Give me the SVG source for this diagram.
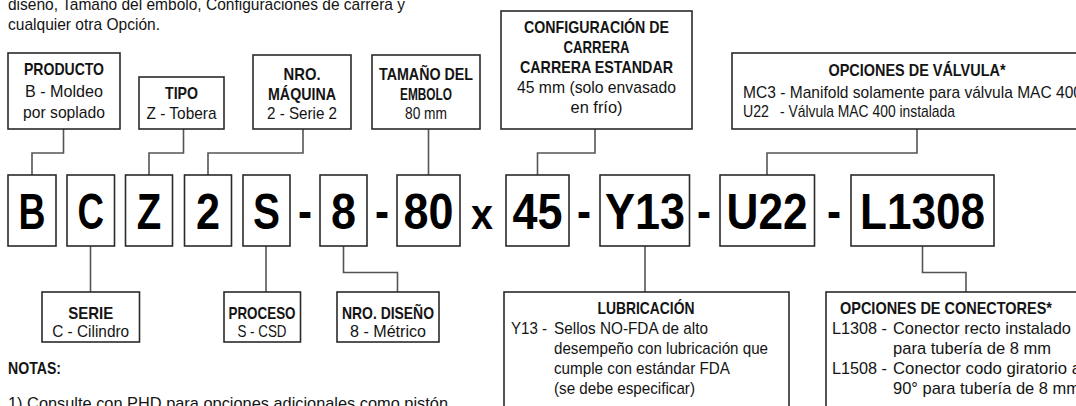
<svg xmlns="http://www.w3.org/2000/svg" width="1076" height="406" viewBox="0 0 1076 406">
<style>
.b{fill:#fff;stroke:#2a2a2a;stroke-width:1.6}
.c{fill:none;stroke:#555;stroke-width:1.6}
.t{font-family:'Liberation Sans',Arial,sans-serif;font-size:17px;fill:#141414}
.h{font-weight:bold}
.m{text-anchor:middle}
.g{font-family:'Liberation Sans',Arial,sans-serif;font-weight:bold;font-size:50px;text-anchor:middle;fill:#000}
</style>
<rect width="1076" height="406" fill="#fff"/>
<g id="intro">
<text class="t" x="8" y="10" textLength="397" lengthAdjust="spacingAndGlyphs">diseño, Tamaño del émbolo, Configuraciones de carrera y</text>
<text class="t" x="8" y="30" textLength="152" lengthAdjust="spacingAndGlyphs">cualquier otra Opción.</text>
</g>
<g id="connectors">
<path class="c" d="M63.5,129V153H32V175"/>
<path class="c" d="M183.5,129V153H149V175"/>
<path class="c" d="M303,129V153H208V175"/>
<path class="c" d="M428.5,129V175"/>
<path class="c" d="M595,129V153H537.5V175"/>
<path class="c" d="M917,129V153H767V175"/>
<path class="c" d="M90.5,246V292"/>
<path class="c" d="M266,246V292"/>
<path class="c" d="M343.5,246V272.5H397.5V292"/>
<path class="c" d="M645,246V292"/>
<path class="c" d="M922.5,246V272.5H966V292"/>
</g>
<g id="producto"><rect class="b" x="8" y="53" width="112" height="76"/>
<text class="t h m" x="64" y="75" textLength="80" lengthAdjust="spacingAndGlyphs">PRODUCTO</text>
<text class="t m" x="64" y="97" textLength="78" lengthAdjust="spacingAndGlyphs">B - Moldeo</text>
<text class="t m" x="64" y="118" textLength="82" lengthAdjust="spacingAndGlyphs">por soplado</text></g>
<g id="tipo"><rect class="b" x="139" y="77" width="85" height="52"/>
<text class="t h m" x="181.5" y="99" textLength="33" lengthAdjust="spacingAndGlyphs">TIPO</text>
<text class="t m" x="181.5" y="119" textLength="70" lengthAdjust="spacingAndGlyphs">Z - Tobera</text></g>
<g id="maquina"><rect class="b" x="253" y="55" width="98" height="74"/>
<text class="t h m" x="302" y="80" textLength="37" lengthAdjust="spacingAndGlyphs">NRO.</text>
<text class="t h m" x="302" y="100" textLength="68" lengthAdjust="spacingAndGlyphs">MÁQUINA</text>
<text class="t m" x="302" y="119" textLength="70" lengthAdjust="spacingAndGlyphs">2 - Serie 2</text></g>
<g id="embolo"><rect class="b" x="372" y="55" width="108" height="74"/>
<text class="t h m" x="426" y="80" textLength="94" lengthAdjust="spacingAndGlyphs">TAMAÑO DEL</text>
<text class="t h m" x="426" y="100" textLength="52" lengthAdjust="spacingAndGlyphs">EMBOLO</text>
<text class="t m" x="426" y="119" textLength="42" lengthAdjust="spacingAndGlyphs">80 mm</text></g>
<g id="carrera"><rect class="b" x="501" y="11" width="191" height="118"/>
<text class="t h m" x="596.5" y="33" textLength="145" lengthAdjust="spacingAndGlyphs">CONFIGURACIÓN DE</text>
<text class="t h m" x="596.5" y="53" textLength="66" lengthAdjust="spacingAndGlyphs">CARRERA</text>
<text class="t h m" x="596.5" y="73" textLength="153" lengthAdjust="spacingAndGlyphs">CARRERA ESTANDAR</text>
<text class="t m" x="596.5" y="93" textLength="159" lengthAdjust="spacingAndGlyphs">45 mm (solo envasado</text>
<text class="t m" x="596.5" y="113" textLength="52" lengthAdjust="spacingAndGlyphs">en frío)</text></g>
<g id="valvula"><rect class="b" x="732" y="53" width="360" height="76"/>
<text class="t h m" x="917" y="76" textLength="177" lengthAdjust="spacingAndGlyphs">OPCIONES DE VÁLVULA*</text>
<text class="t" x="743" y="98" textLength="339" lengthAdjust="spacingAndGlyphs">MC3 - Manifold solamente para válvula MAC 400</text>
<text class="t" x="743" y="117" textLength="26" lengthAdjust="spacingAndGlyphs">U22</text>
<text class="t" x="780" y="117" textLength="175" lengthAdjust="spacingAndGlyphs">- Válvula MAC 400 instalada</text></g>
<g id="code">
<rect class="b" x="8" y="175" width="48" height="71"/><text class="g" x="32" y="229" textLength="27" lengthAdjust="spacingAndGlyphs">B</text>
<rect class="b" x="67" y="175" width="47.5" height="71"/><text class="g" x="90.7" y="229" textLength="26.5" lengthAdjust="spacingAndGlyphs">C</text>
<rect class="b" x="125.5" y="175" width="47" height="71"/><text class="g" x="149" y="229" textLength="24.5" lengthAdjust="spacingAndGlyphs">Z</text>
<rect class="b" x="184.5" y="175" width="47" height="71"/><text class="g" x="208" y="229" textLength="24" lengthAdjust="spacingAndGlyphs">2</text>
<rect class="b" x="243" y="175" width="47" height="71"/><text class="g" x="266.5" y="229" textLength="27" lengthAdjust="spacingAndGlyphs">S</text>
<text class="g" x="305" y="228" textLength="14" lengthAdjust="spacingAndGlyphs">-</text>
<rect class="b" x="320" y="175" width="47" height="71"/><text class="g" x="343.5" y="229" textLength="25" lengthAdjust="spacingAndGlyphs">8</text>
<text class="g" x="382" y="228" textLength="14" lengthAdjust="spacingAndGlyphs">-</text>
<rect class="b" x="397" y="175" width="63" height="71"/><text class="g" x="428.5" y="229" textLength="50" lengthAdjust="spacingAndGlyphs">80</text>
<text class="g" x="482" y="229" style="font-size:42px" textLength="22" lengthAdjust="spacingAndGlyphs">x</text>
<rect class="b" x="506" y="175" width="63" height="71"/><text class="g" x="537.5" y="229" textLength="50" lengthAdjust="spacingAndGlyphs">45</text>
<text class="g" x="584" y="228" textLength="14" lengthAdjust="spacingAndGlyphs">-</text>
<rect class="b" x="600" y="175" width="89.5" height="71"/><text class="g" x="645" y="229" textLength="80" lengthAdjust="spacingAndGlyphs">Y13</text>
<text class="g" x="704" y="228" textLength="14" lengthAdjust="spacingAndGlyphs">-</text>
<rect class="b" x="720" y="175" width="94.5" height="71"/><text class="g" x="767" y="229" textLength="81" lengthAdjust="spacingAndGlyphs">U22</text>
<text class="g" x="834" y="228" textLength="14" lengthAdjust="spacingAndGlyphs">-</text>
<rect class="b" x="851" y="175" width="143" height="71"/><text class="g" x="922.5" y="229" textLength="125" lengthAdjust="spacingAndGlyphs">L1308</text>
</g>
<g id="serie"><rect class="b" x="42" y="292" width="97.5" height="50"/>
<text class="t h m" x="90.7" y="319" textLength="45" lengthAdjust="spacingAndGlyphs">SERIE</text>
<text class="t m" x="90.7" y="337" textLength="77" lengthAdjust="spacingAndGlyphs">C - Cilindro</text></g>
<g id="proceso"><rect class="b" x="224" y="292" width="76.5" height="50"/>
<text class="t h m" x="262" y="319" textLength="67" lengthAdjust="spacingAndGlyphs">PROCESO</text>
<text class="t m" x="262" y="337" textLength="49" lengthAdjust="spacingAndGlyphs">S - CSD</text></g>
<g id="diseno"><rect class="b" x="337" y="292" width="102" height="50"/>
<text class="t h m" x="388" y="319" textLength="92" lengthAdjust="spacingAndGlyphs">NRO. DISEÑO</text>
<text class="t m" x="388" y="337" textLength="76" lengthAdjust="spacingAndGlyphs">8 - Métrico</text></g>
<g id="lubricacion"><rect class="b" x="504" y="292" width="285" height="130"/>
<text class="t h m" x="646" y="314" textLength="97" lengthAdjust="spacingAndGlyphs">LUBRICACIÓN</text>
<text class="t" x="511" y="334" textLength="36" lengthAdjust="spacingAndGlyphs">Y13 -</text>
<text class="t" x="554" y="334" textLength="154" lengthAdjust="spacingAndGlyphs">Sellos NO-FDA de alto</text>
<text class="t" x="554" y="354" textLength="214" lengthAdjust="spacingAndGlyphs">desempeño con lubricación que</text>
<text class="t" x="554" y="374" textLength="176" lengthAdjust="spacingAndGlyphs">cumple con estándar FDA</text>
<text class="t" x="554" y="394" textLength="141" lengthAdjust="spacingAndGlyphs">(se debe especificar)</text></g>
<g id="conectores"><rect class="b" x="826" y="292" width="260" height="130"/>
<text class="t h m" x="946" y="314" textLength="212" lengthAdjust="spacingAndGlyphs">OPCIONES DE CONECTORES*</text>
<text class="t" x="832" y="334" textLength="55" lengthAdjust="spacingAndGlyphs">L1308 -</text>
<text class="t" x="893" y="334" textLength="178" lengthAdjust="spacingAndGlyphs">Conector recto instalado</text>
<text class="t" x="893" y="354" textLength="158" lengthAdjust="spacingAndGlyphs">para tubería de 8 mm</text>
<text class="t" x="832" y="374" textLength="55" lengthAdjust="spacingAndGlyphs">L1508 -</text>
<text class="t" x="893" y="374" textLength="188" lengthAdjust="spacingAndGlyphs">Conector codo giratorio a</text>
<text class="t" x="893" y="394" textLength="187" lengthAdjust="spacingAndGlyphs">90° para tubería de 8 mm</text></g>
<g id="notas">
<text class="t h" x="8" y="374" textLength="53" lengthAdjust="spacingAndGlyphs">NOTAS:</text>
<text class="t" x="8" y="409" textLength="440" lengthAdjust="spacingAndGlyphs">1)  Consulte con PHD para opciones adicionales como pistón</text>
</g>
</svg>
